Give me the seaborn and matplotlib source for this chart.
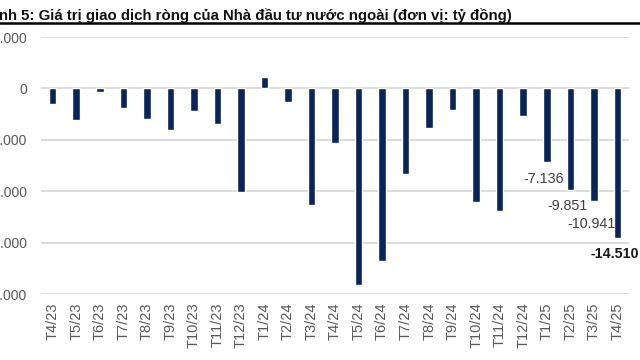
import seaborn as sns
import pandas as pd
import matplotlib.pyplot as plt
from matplotlib.ticker import FuncFormatter

# Net foreign investor trading value (bn VND)
months = ["T4/23", "T5/23", "T6/23", "T7/23", "T8/23", "T9/23", "T10/23", "T11/23",
          "T12/23", "T1/24", "T2/24", "T3/24", "T4/24", "T5/24", "T6/24", "T7/24",
          "T8/24", "T9/24", "T10/24", "T11/24", "T12/24", "T1/25", "T2/25", "T3/25", "T4/25"]
net_value = [-1470, -3100, -390, -1900, -2970, -3990, -2220, -3500,
             -10070, 1140, -1340, -11340, -5330, -19120, -16760, -8330,
             -3820, -2120, -11010, -11930, -2710, -7136, -9851, -10941, -14510]
labelled = {"T1/25": "-7.136", "T2/25": "-9.851", "T3/25": "-10.941", "T4/25": "-14.510"}

df = pd.DataFrame({"month": months, "value": net_value})

sns.set_theme(style="white")
plt.rcParams["font.family"] = ["Liberation Sans", "DejaVu Sans"]

fig = plt.figure(figsize=(6.4, 3.6), dpi=100)
ax = fig.add_axes([0.064, 0.183, 0.919, 0.714])

sns.barplot(data=df, x="month", y="value", color="#0B2456", width=0.32,
            saturation=1, ax=ax)

ax.set_ylim(-20000, 5000)
ax.set_yticks(range(-20000, 5001, 5000))
ax.yaxis.set_major_formatter(FuncFormatter(lambda v, p: f"{int(v):,}".replace(",", ".")))
ax.grid(axis="y", color="#D9D9D9", linewidth=1.3)
ax.set_axisbelow(True)
for s in ax.spines.values():
    s.set_visible(False)
ax.set_xlabel("")
ax.set_ylabel("")
ax.tick_params(axis="y", labelsize=10, labelcolor="#595959", length=0, pad=10)
ax.tick_params(axis="x", labelsize=10.5, labelcolor="#595959", length=0, pad=6,
               labelrotation=90)

# labels sit just under the bar ends, the T3/25 one a bit lower so they don't collide
for i, (m, v) in enumerate(zip(months, net_value)):
    if m in labelled:
        bold = m == "T4/25"
        dy = -11.5 if m == "T3/25" else -7
        ax.annotate(labelled[m], (i, v), xytext=(-2, dy), textcoords="offset points",
                    ha="center", va="top", fontsize=10.3,
                    color="#1A1A1A" if bold else "#404040",
                    fontweight="bold" if bold else "normal",
                    annotation_clip=False)

fig.text(512 / 640, 1 - 20 / 360,
         "Hình 5: Giá trị giao dịch ròng của Nhà đầu tư nước ngoài (đơn vị: tỷ đồng)",
         ha="right", va="baseline", fontsize=10.8, fontweight="bold", color="#111111")
fig.add_artist(plt.Line2D([0, 1], [1 - 23 / 360, 1 - 23 / 360], transform=fig.transFigure,
                          color="black", linewidth=1.8))

fig.savefig("out.png", dpi=100)
